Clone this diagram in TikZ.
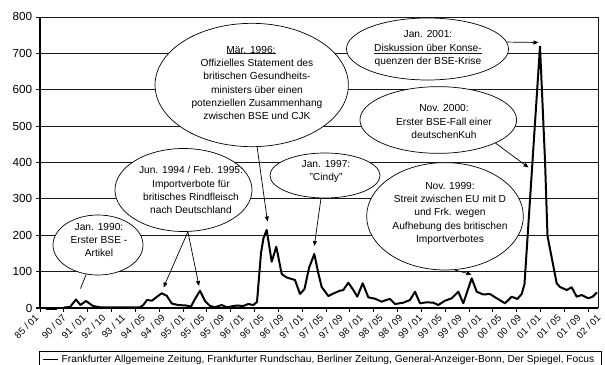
\documentclass[tikz,border=0pt]{standalone}
\usepackage{fontspec}
\setmainfont{Liberation Sans}
\usetikzlibrary{shapes.geometric,arrows.meta}
\begin{document}
\begin{tikzpicture}[x=0.03cm,y=-0.03cm,
  grid/.style={black!90,line width=0.75pt},
  axisline/.style={black,line width=1.5pt},
  tickline/.style={black,line width=0.75pt},
  series/.style={black,line width=1.7pt,line join=round,line cap=round},
  bubble/.style={ellipse,draw=black,line width=0.6pt,fill=white,inner sep=0pt},
  bubbletext/.style={align=center,font=\fontsize{8.7pt}{11.35pt}\selectfont,inner sep=0pt},
  pointer/.style={black,line width=0.6pt,-{Triangle[length=1.5mm,width=1.2mm]}},
  plainline/.style={black,line width=0.6pt},
  ylab/.style={anchor=east,font=\fontsize{10pt}{12pt}\selectfont,inner sep=0pt},
  xlab/.style={anchor=east,rotate=45,font=\fontsize{8.2pt}{10pt}\selectfont,inner sep=0pt},
  legendtext/.style={anchor=west,font=\fontsize{8.7pt}{10pt}\selectfont,inner sep=0pt},
]
\useasboundingbox (0,0) rectangle (605,365);

% gridlines
\foreach \yy in {17,53.3,89.7,126,162.4,198.8,235.2,271.6}
  \draw[grid] (36,\yy) -- (598,\yy);
\draw[grid] (598,17) -- (598,308);
% axes
\draw[axisline] (40,17) -- (40,308);
\draw[axisline] (36,308) -- (598.4,308);
% x ticks
\foreach \k in {0,...,23}
  \draw[tickline] ({40+23.83*\k},308) -- ({40+23.83*\k},311.5);

% y labels
\foreach \v [count=\i from 0] in {0,100,200,300,400,500,600,700,800}
  \node[ylab] (yl\v) at (32.5,{308-36.4*\i}) {\v};

% x labels
\foreach \a/\b [count=\i from 0] in {85/01,90/07,91/01,92/10,93/11,94/05,94/09,95/01,95/05,95/09,96/01,96/05,96/09,97/01,97/05,97/09,98/01,98/05,98/09,99/01,99/05,99/09,00/01,00/05,00/09,01/01,01/05,01/09,02/01}{
  \pgfmathsetmacro\xx{\i==0 ? 37 : 44.5+19.8*\i}
  \node[xlab] (xl\i) at (\xx,316) {\a{} / \b};
}

% data series
\draw[series] (46.5,309.3) -- (56.5,309.3);
\draw[series] plot coordinates {
(64,307.5) (70,307) (76,299.5) (80.5,305) (86,301) (93,306) (100,307.3) (140,307.3)
(143.3,305) (147,300) (152,300.7) (156,297.5) (161.7,293.3) (166.7,295.7) (171.7,303.5)
(178,305) (186,305.5) (191,306.5) (195,299) (200,290.7) (205,301) (210,306) (215,307.3)
(221.7,305) (226.7,307.3) (231,306.5) (236.7,305.5) (243.3,306) (248.3,304) (253.3,305)
(257,302) (261,253) (263.5,238) (266.7,230) (271.7,261.7) (276.3,246.7) (281.7,274)
(286.7,277.5) (295,280) (300,294) (304.5,289) (309,268) (314.3,254) (318.5,274) (321.7,287)
(328.3,296) (333.3,293.5) (340,290.7) (343.3,290) (348.3,282.7) (353.3,290) (357.3,296.7)
(362.7,283.3) (368.3,297.3) (375,298.7) (381.7,301.7) (386,300) (390,299) (395,304)
(403.3,302.7) (410,300) (415,291.7) (420,303.3) (426.7,302.3) (433.3,302.7) (438.3,305)
(445,300.7) (451.7,298.3) (458.3,291.7) (463.3,303.3) (471.7,278.3) (476.7,291.7)
(483.3,294.5) (490,294) (496.7,298.3) (505,303.3) (511.7,296.7) (517.3,299) (521.7,294)
(524.5,284) (540,46.5) (545,160) (547.5,236) (556.7,283.3) (560,287) (566.7,290)
(571.7,287.3) (576.7,296.7) (581.7,295) (588.3,298.3) (592.7,296.7) (596.7,292.7)
};

% annotation bubbles
\node[bubble,minimum width=2.7cm,minimum height=1.8cm] (eA) at (98,245) {};
\node[bubbletext] (tA) at (99,240) {Jan. 1990:\\Erster BSE -\\Artikel};

\node[bubble,minimum width=4.11cm,minimum height=2.49cm] (eB) at (183.5,190) {};
\node[bubbletext] (tB) at (191,190.3) {Jun. 1994 / Feb. 1995:\\Importverbote für\\britisches Rindfleisch\\nach Deutschland};

\node[bubble,minimum width=5.8cm,minimum height=3.7cm] (eC) at (251.7,85) {};
\node[bubbletext] (tC) at (257,83) {Mär. 1996:\hspace*{0.36cm}\\Offizielles Statement des\\britischen Gesundheits-\\ministers über einen\\potenziellen Zusammenhang\\zwischen BSE und CJK};

\node[bubble,minimum width=3.3cm,minimum height=1.35cm] (eD) at (325,175.5) {};
\node[bubbletext] (tD) at (326,171.7) {Jan. 1997:\\"Cindy"};

\node[bubble,minimum width=4.7cm,minimum height=3.22cm] (eE) at (445,216.3) {};
\node[bubbletext] (tE) at (450,213.3) {Nov. 1999:\\Streit zwischen EU mit D\\und Frk. wegen\\Aufhebung des britischen\\Importverbotes};

\node[bubble,minimum width=4.86cm,minimum height=1.86cm] (eF) at (427.5,49) {};
\node[bubbletext] (tF) at (428,48.7) {Jan. 2001:\\Diskussion über Konse-\\quenzen der BSE-Krise};

\node[bubble,minimum width=4.7cm,minimum height=2.0cm] (eG) at (438.3,120) {};
\node[bubbletext] (tG) at (444,121.7) {Nov. 2000:\\Erster BSE-Fall einer\\deutschenKuh};

% gridline traces visible through the bubble texts
\draw[grid] (226.5,53.3) -- (275.5,53.3);
\draw[grid] (374,53.3) -- (482,53.3);

% connectors
\coordinate (pA) at (80.5,288.5);
\coordinate (pB1) at (163.5,287.5);
\coordinate (pB2) at (199,286);
\coordinate (pC) at (267.5,221.5);
\coordinate (pD) at (314.3,246);
\coordinate (pE) at (471.5,274.5);
\coordinate (pF) at (538.5,42.5);
\coordinate (pG) at (528.5,167.5);
\draw[plainline] (eA) -- (pA);
\draw[pointer] (eB.-84) -- (pB1);
\draw[pointer] (eB.-84) -- (pB2);
\draw[pointer] (eC.-85) -- (pC);
\draw[pointer] (eD.-100) -- (pD);
\draw[pointer] (eE.-80) -- (pE);
\draw[pointer] (eF.5) -- (pF);
\draw[pointer] (eG.-22) -- (pG);

% legend
\draw[black,line width=0.75pt] (39.5,351) rectangle (601.5,368);
\coordinate (lgA) at (43.3,359.5);
\coordinate (lgB) at (58.3,359.5);
\draw[series,line cap=butt] (lgA) -- (lgB);
\node[legendtext] (lgT) at (61.5,359.8) {Frankfurter Allgemeine Zeitung, Frankfurter Rundschau, Berliner Zeitung, General-Anzeiger-Bonn, Der Spiegel, Focus};
\end{tikzpicture}
\end{document}
